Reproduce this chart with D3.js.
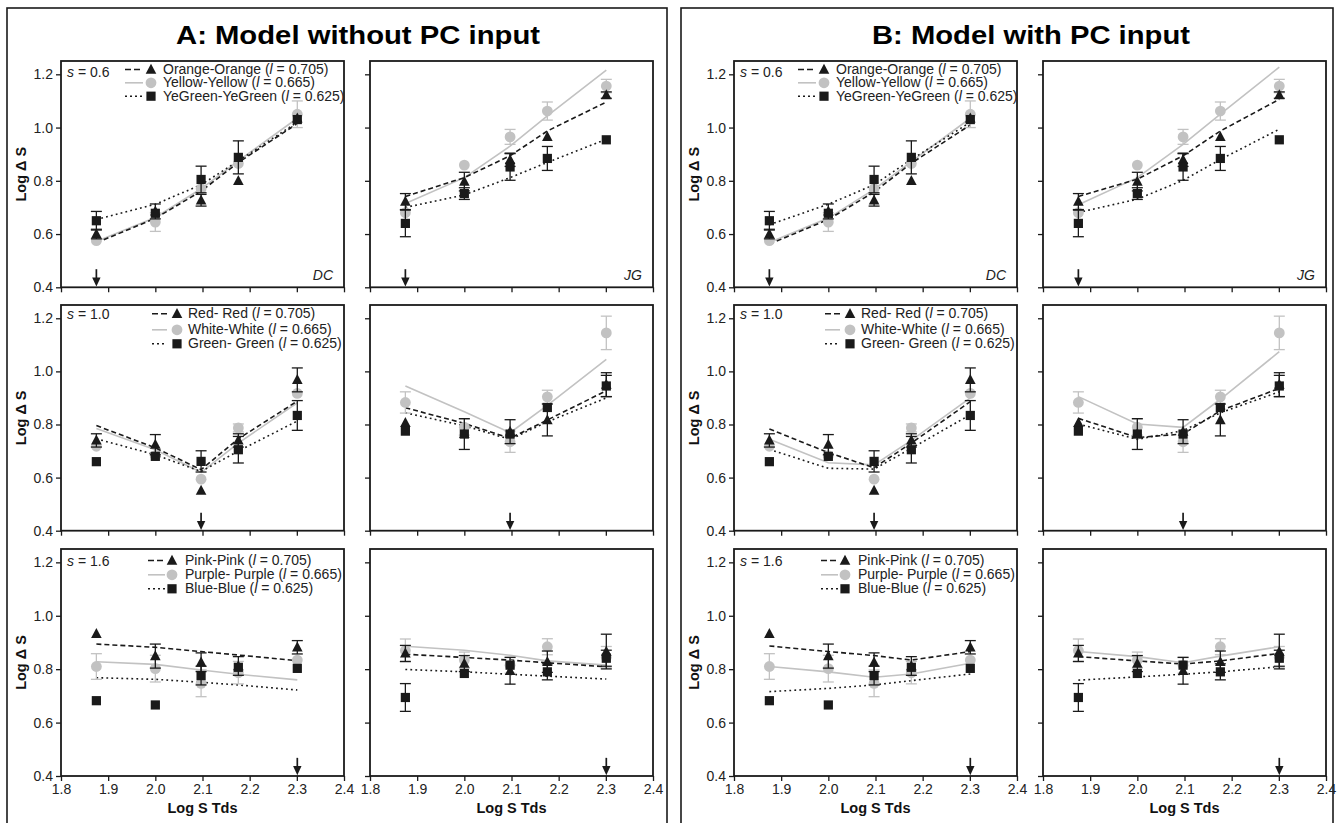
<!DOCTYPE html>
<html>
<head>
<meta charset="utf-8">
<script src="https://cdn.jsdelivr.net/npm/d3@7"></script>
<style>
  body { margin: 0; background: #fff; }
  svg { display: block; }
  text { font-family: "Liberation Sans", Arial, Helvetica, sans-serif; }
</style>
</head>
<body>
<svg id="fig" width="1337" height="823"></svg>
<script>
// ---- data -------------------------------------------------------------
const logTds = [1.875, 2.0, 2.097, 2.176, 2.301];
const xTicks = [1.8, 1.9, 2.0, 2.1, 2.2, 2.3, 2.4];
const yTicks = [0.4, 0.6, 0.8, 1.0, 1.2];
const sValues = ["0.6", "1.0", "1.6"];
const lValues = ["0.705", "0.665", "0.625"];
const stimNames06 = ["Orange-Orange", "Yellow-Yellow", "YeGreen-YeGreen"];
const stimNames10 = ["Red- Red", "White-White", "Green- Green"];
const stimNames16 = ["Pink-Pink", "Purple- Purple", "Blue-Blue"];
const observers = ["DC", "JG"];
const arrowIndex = [0, 2, 4];          // marked Tds per s-row
const modelTitles = ["A: Model without PC input", "B: Model with PC input"];

// observed log ΔS, rows = [triangle, circle, square]
const obsDC06 = [[0.600, 0.685, 0.727, 0.800, 1.035], [0.575, 0.645, 0.770, 0.865, 1.050], [0.650, 0.678, 0.805, 0.888, 1.030]];
const errDC06 = [[0.018, 0.028, 0.022, 0, 0], [0, 0.035, 0, 0, 0.050], [0.035, 0, 0.050, 0.062, 0]];
const obsJG06 = [[0.722, 0.797, 0.879, 0.965, 1.122], [0.680, 0.859, 0.965, 1.062, 1.156], [0.640, 0.752, 0.852, 0.884, 0.954]];
const errJG06 = [[0.030, 0.035, 0.025, 0, 0.012], [0, 0, 0.028, 0.034, 0.025], [0.050, 0.022, 0.050, 0.045, 0]];
const obsDC10 = [[0.740, 0.724, 0.551, 0.740, 0.968], [0.718, 0.683, 0.594, 0.787, 0.917], [0.660, 0.680, 0.661, 0.705, 0.834]];
const errDC10 = [[0.025, 0.038, 0, 0.025, 0.045], [0, 0, 0, 0.015, 0], [0, 0, 0.040, 0.050, 0.056]];
const obsJG10 = [[0.806, 0.765, 0.773, 0.817, 0.950], [0.883, 0.790, 0.735, 0.904, 1.145], [0.775, 0.764, 0.764, 0.864, 0.945]];
const errJG10 = [[0, 0, 0.045, 0.060, 0.045], [0.040, 0.030, 0.040, 0.025, 0.063], [0, 0.058, 0, 0, 0.040]];
const obsDC16 = [[0.932, 0.849, 0.826, 0.812, 0.882], [0.810, 0.802, 0.747, 0.787, 0.834], [0.682, 0.666, 0.776, 0.807, 0.803]];
const errDC16 = [[0, 0.045, 0.035, 0.035, 0.025], [0.048, 0.050, 0.050, 0.042, 0], [0, 0, 0.035, 0, 0]];
const obsJG16 = [[0.859, 0.821, 0.794, 0.828, 0.866], [0.870, 0.834, 0.815, 0.884, 0.845], [0.694, 0.784, 0.815, 0.790, 0.841]];
const errJG16 = [[0.030, 0.030, 0.050, 0.040, 0.065], [0.043, 0.030, 0.030, 0.030, 0.040], [0.052, 0, 0, 0.030, 0.030]];

// model predictions without PC input
const modelA_DC06 = [[0.567, 0.659, 0.761, 0.869, 1.015], [0.572, 0.662, 0.770, 0.875, 1.035], [0.655, 0.712, 0.785, 0.875, 1.020]];
const modelA_JG06 = [[0.741, 0.812, 0.894, 0.987, 1.096], [0.715, 0.812, 0.930, 1.044, 1.216], [0.700, 0.747, 0.812, 0.869, 0.956]];
const modelA_DC10 = [[0.796, 0.712, 0.630, 0.746, 0.888], [0.785, 0.705, 0.620, 0.730, 0.882], [0.746, 0.686, 0.623, 0.700, 0.813]];
const modelA_JG10 = [[0.863, 0.804, 0.748, 0.817, 0.927], [0.945, 0.848, 0.769, 0.872, 1.045], [0.844, 0.795, 0.744, 0.810, 0.900]];
const modelA_DC16 = [[0.894, 0.882, 0.866, 0.853, 0.832], [0.828, 0.818, 0.797, 0.781, 0.760], [0.768, 0.762, 0.751, 0.741, 0.722]];
const modelA_JG16 = [[0.856, 0.844, 0.834, 0.824, 0.809], [0.886, 0.871, 0.852, 0.831, 0.815], [0.799, 0.790, 0.781, 0.774, 0.763]];

// model predictions with PC input
const modelB_DC06 = [[0.562, 0.655, 0.758, 0.866, 1.010], [0.568, 0.660, 0.768, 0.872, 1.035], [0.635, 0.712, 0.785, 0.880, 1.020]];
const modelB_JG06 = [[0.741, 0.806, 0.894, 0.987, 1.106], [0.710, 0.812, 0.937, 1.050, 1.227], [0.681, 0.731, 0.802, 0.880, 0.994]];
const modelB_DC10 = [[0.783, 0.694, 0.637, 0.730, 0.886], [0.744, 0.656, 0.648, 0.740, 0.900], [0.706, 0.635, 0.632, 0.710, 0.837]];
const modelB_JG10 = [[0.823, 0.751, 0.764, 0.852, 0.936], [0.905, 0.802, 0.789, 0.895, 1.074], [0.802, 0.744, 0.777, 0.844, 0.923]];
const modelB_DC16 = [[0.887, 0.866, 0.851, 0.834, 0.866], [0.810, 0.790, 0.770, 0.782, 0.822], [0.716, 0.728, 0.741, 0.757, 0.782]];
const modelB_JG16 = [[0.847, 0.831, 0.819, 0.831, 0.859], [0.866, 0.847, 0.824, 0.849, 0.884], [0.759, 0.771, 0.781, 0.790, 0.809]];

// ---- assembly ---------------------------------------------------------
const stimNames = [stimNames06, stimNames10, stimNames16];
const obs = { DC: [obsDC06, obsDC10, obsDC16], JG: [obsJG06, obsJG10, obsJG16] };
const err = { DC: [errDC06, errDC10, errDC16], JG: [errJG06, errJG10, errJG16] };
const models = [
  { DC: [modelA_DC06, modelA_DC10, modelA_DC16], JG: [modelA_JG06, modelA_JG10, modelA_JG16] },
  { DC: [modelB_DC06, modelB_DC10, modelB_DC16], JG: [modelB_JG06, modelB_JG10, modelB_JG16] }
];

// ---- layout -----------------------------------------------------------
const INK = "#1a1a1a";
const GREY = "#c2c2c2";
const panelW = 283;
const colLeft = [[61, 370], [734, 1043]];
const rowTop = [61, 305, 549];
const rowH = [226.3, 225.7, 227];
const frames = [{ x: 7, w: 660, tx: 358 }, { x: 681, w: 652, tx: 1031 }];
const legendGeom = [
  { lx: [64, 82], mx: 90, tx: 102, sBase: 15.5, base: [13, 26.3, 39.7] },
  { lx: [91, 106], mx: 116, tx: 127, sBase: 14, base: [13.3, 29.3, 43.3] },
  { lx: [87, 104], mx: 111, tx: 124, sBase: 17, base: [16, 30.3, 44.3] }
];
const lineStyle = [
  { stroke: INK, dash: "5,3", width: 1.6 },
  { stroke: GREY, dash: null, width: 1.6 },
  { stroke: INK, dash: "1.8,3.2", width: 1.6 }
];

const svg = d3.select("#fig");

function drawMarker(g, type, cx, cy) {
  if (type === 0) {
    g.append("path")
      .attr("d", `M${cx},${cy - 5.8}L${cx + 5.3},${cy + 4.2}L${cx - 5.3},${cy + 4.2}Z`)
      .attr("fill", INK);
  } else if (type === 1) {
    g.append("circle").attr("cx", cx).attr("cy", cy).attr("r", 5.4).attr("fill", GREY);
  } else {
    g.append("rect").attr("x", cx - 4.6).attr("y", cy - 4.6)
      .attr("width", 9.2).attr("height", 9.2).attr("fill", INK);
  }
}

// outer frames and headings
frames.forEach((f, m) => {
  svg.append("rect").attr("x", f.x).attr("y", 8).attr("width", f.w).attr("height", 840)
    .attr("fill", "none").attr("stroke", INK).attr("stroke-width", 1.6);
  svg.append("text").attr("x", f.tx).attr("y", 44).attr("text-anchor", "middle")
    .attr("font-size", 26).attr("font-weight", "bold").attr("fill", "#000")
    .attr("textLength", m === 0 ? 364 : 318).attr("lengthAdjust", "spacingAndGlyphs")
    .text(modelTitles[m]);
});

models.forEach((model, m) => {
  observers.forEach((ob, c) => {
    [0, 1, 2].forEach(r => {
      const h = rowH[r];
      const g = svg.append("g")
        .attr("transform", `translate(${colLeft[m][c]},${rowTop[r]})`);
      const x = d3.scaleLinear().domain([1.8, 2.4]).range([0, panelW]);
      const y = d3.scaleLinear().domain([0.4, 1.25]).range([h, 0]);

      // axes
      const ya = g.append("g").call(
        d3.axisLeft(y).tickValues(yTicks).tickSize(5).tickPadding(3)
          .tickFormat(c === 0 ? d3.format(".1f") : () => ""));
      const xa = g.append("g").attr("transform", `translate(0,${h})`).call(
        d3.axisBottom(x).tickValues(xTicks).tickSize(5).tickPadding(3)
          .tickFormat(r === 2 ? d3.format(".1f") : () => ""));
      [ya, xa].forEach(a => {
        a.select(".domain").remove();
        a.selectAll(".tick line").attr("stroke", INK).attr("stroke-width", 1.3);
        a.selectAll(".tick text").attr("font-size", 14).attr("fill", "#222")
          .style("font-family", '"Liberation Sans", Arial, sans-serif');
      });

      // panel frame
      g.append("rect").attr("width", panelW).attr("height", h)
        .attr("fill", "none").attr("stroke", INK).attr("stroke-width", 1.8);

      // model curves
      const line = d3.line().x((d, i) => x(logTds[i])).y(d => y(d));
      [1, 0, 2].forEach(k => {
        const ls = lineStyle[k];
        g.append("path").datum(model[ob][r][k]).attr("d", line)
          .attr("fill", "none").attr("stroke", ls.stroke)
          .attr("stroke-width", ls.width)
          .attr("stroke-dasharray", ls.dash);
      });

      // observations with error bars (grey circles underneath)
      [1, 0, 2].forEach(k => {
        const vals = obs[ob][r][k];
        const errs = err[ob][r][k];
        const col = k === 1 ? GREY : INK;
        vals.forEach((v, i) => {
          const cx = x(logTds[i]);
          const e = errs[i];
          if (e > 0) {
            const y0 = y(v - e), y1 = y(v + e);
            g.append("line").attr("x1", cx).attr("x2", cx).attr("y1", y0).attr("y2", y1)
              .attr("stroke", col).attr("stroke-width", 1.3);
            [y0, y1].forEach(yy => g.append("line")
              .attr("x1", cx - 5.5).attr("x2", cx + 5.5).attr("y1", yy).attr("y2", yy)
              .attr("stroke", col).attr("stroke-width", 1.3));
          }
          drawMarker(g, k, cx, y(v));
        });
      });

      // arrow at the marked Tds
      const ax = x(logTds[arrowIndex[r]]);
      g.append("line").attr("x1", ax).attr("x2", ax)
        .attr("y1", y(0.468)).attr("y2", y(0.43))
        .attr("stroke", INK).attr("stroke-width", 1.7);
      g.append("path")
        .attr("d", `M${ax - 4.2},${y(0.437)}L${ax + 4.2},${y(0.437)}L${ax},${y(0.403)}Z`)
        .attr("fill", INK);

      // observer tag
      if (r === 0) {
        g.append("text").attr("x", panelW - 11).attr("y", h - 7)
          .attr("text-anchor", "end").attr("font-size", 14).attr("font-style", "italic")
          .attr("fill", "#222").text(ob);
      }

      // legend and axis title on left column
      if (c === 0) {
        const lg = legendGeom[r];
        const st = g.append("text").attr("x", 6).attr("y", lg.sBase)
          .attr("font-size", 14).attr("fill", "#222");
        st.append("tspan").attr("font-style", "italic").text("s");
        st.append("tspan").text(` = ${sValues[r]}`);
        [0, 1, 2].forEach(k => {
          const by = lg.base[k];
          const ly = by - 4.5;
          const ls = lineStyle[k];
          g.append("line").attr("x1", lg.lx[0]).attr("x2", lg.lx[1])
            .attr("y1", ly).attr("y2", ly)
            .attr("stroke", ls.stroke).attr("stroke-width", ls.width)
            .attr("stroke-dasharray", k === 0 ? "6,3" : (k === 2 ? "2,3" : null));
          drawMarker(g, k, lg.mx, ly);
          const t = g.append("text").attr("x", lg.tx).attr("y", by)
            .attr("font-size", 14).attr("fill", "#222");
          t.append("tspan").text(`${stimNames[r][k]} (`);
          t.append("tspan").attr("font-style", "italic").text("l");
          t.append("tspan").text(` = ${lValues[k]})`);
        });
        g.append("text")
          .attr("transform", `translate(-35,${h / 2}) rotate(-90)`)
          .attr("text-anchor", "middle").attr("font-size", 14.5).attr("font-weight", "bold")
          .attr("fill", "#111").text("Log \u0394 S");
      }

      // x axis title under bottom row
      if (r === 2) {
        g.append("text").attr("x", panelW / 2).attr("y", h + 37)
          .attr("text-anchor", "middle").attr("font-size", 14.5).attr("font-weight", "bold")
          .attr("fill", "#111").text("Log S Tds");
      }
    });
  });
});
</script>
</body>
</html>
